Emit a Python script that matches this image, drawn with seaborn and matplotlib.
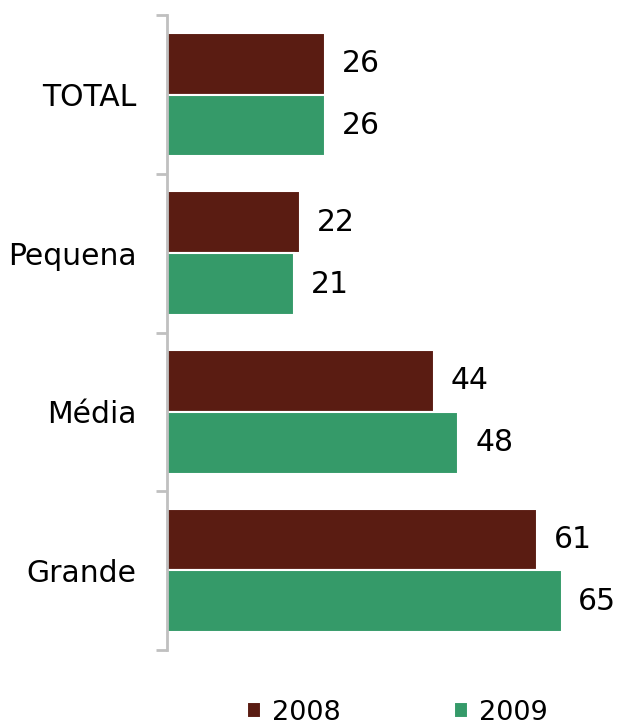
import numpy as np
import pandas as pd
import matplotlib.pyplot as plt
import seaborn as sns

categorias = ["TOTAL", "Pequena", "Média", "Grande"]
anos = ["2008", "2009"]
valores_2008 = [26, 22, 44, 61]
valores_2009 = [26, 21, 48, 65]
cores = ["#5a1c12", "#359a69"]

df = pd.DataFrame({
    "Porte": categorias * 2,
    "Ano": [anos[0]] * 4 + [anos[1]] * 4,
    "Valor": valores_2008 + valores_2009,
})

sns.set_style("white")
plt.rcParams["font.family"] = ["DejaVu Sans"]
plt.rcParams["text.color"] = "black"
plt.rcParams["ytick.color"] = "black"

fig = plt.figure(figsize=(6.18, 7.26), dpi=100)
ax = fig.add_axes([0.270, 0.105, 0.688, 0.874])

sns.barplot(
    data=df, y="Porte", x="Valor", hue="Ano", orient="h",
    palette=cores, saturation=1, width=0.78, edgecolor="white", linewidth=1.5,
    ax=ax, legend=True,
)

ax.set_xlim(0, 70)
ax.set_ylim(3.5, -0.5)
ax.set_xlabel("")
ax.set_ylabel("")
ax.set_xticks([])

for spine in ["top", "right", "bottom"]:
    ax.spines[spine].set_visible(False)
ax.spines["left"].set_color("#c0c0c0")
ax.spines["left"].set_linewidth(2)

ax.set_yticks(range(len(categorias)))
ax.set_yticklabels(categorias, fontsize=21.5)
ax.tick_params(axis="y", which="major", left=False, length=0, pad=22, labelcolor="black")
ax.set_yticks(np.arange(-0.5, len(categorias), 1), minor=True)
ax.tick_params(axis="y", which="minor", left=True, length=8, width=2, color="#c0c0c0")

for container in ax.containers:
    ax.bar_label(container, fmt="%d", padding=12, fontsize=21.5, color="black")

handles, labels = ax.get_legend_handles_labels()
ax.get_legend().remove()
fig.legend(
    handles, labels, loc="lower center", bbox_to_anchor=(0.643, -0.033),
    ncol=2, frameon=False, fontsize=19.5, handlelength=0.5, handleheight=0.5,
    handletextpad=0.4, columnspacing=4.2,
)

fig.savefig("out.png", dpi=100)
